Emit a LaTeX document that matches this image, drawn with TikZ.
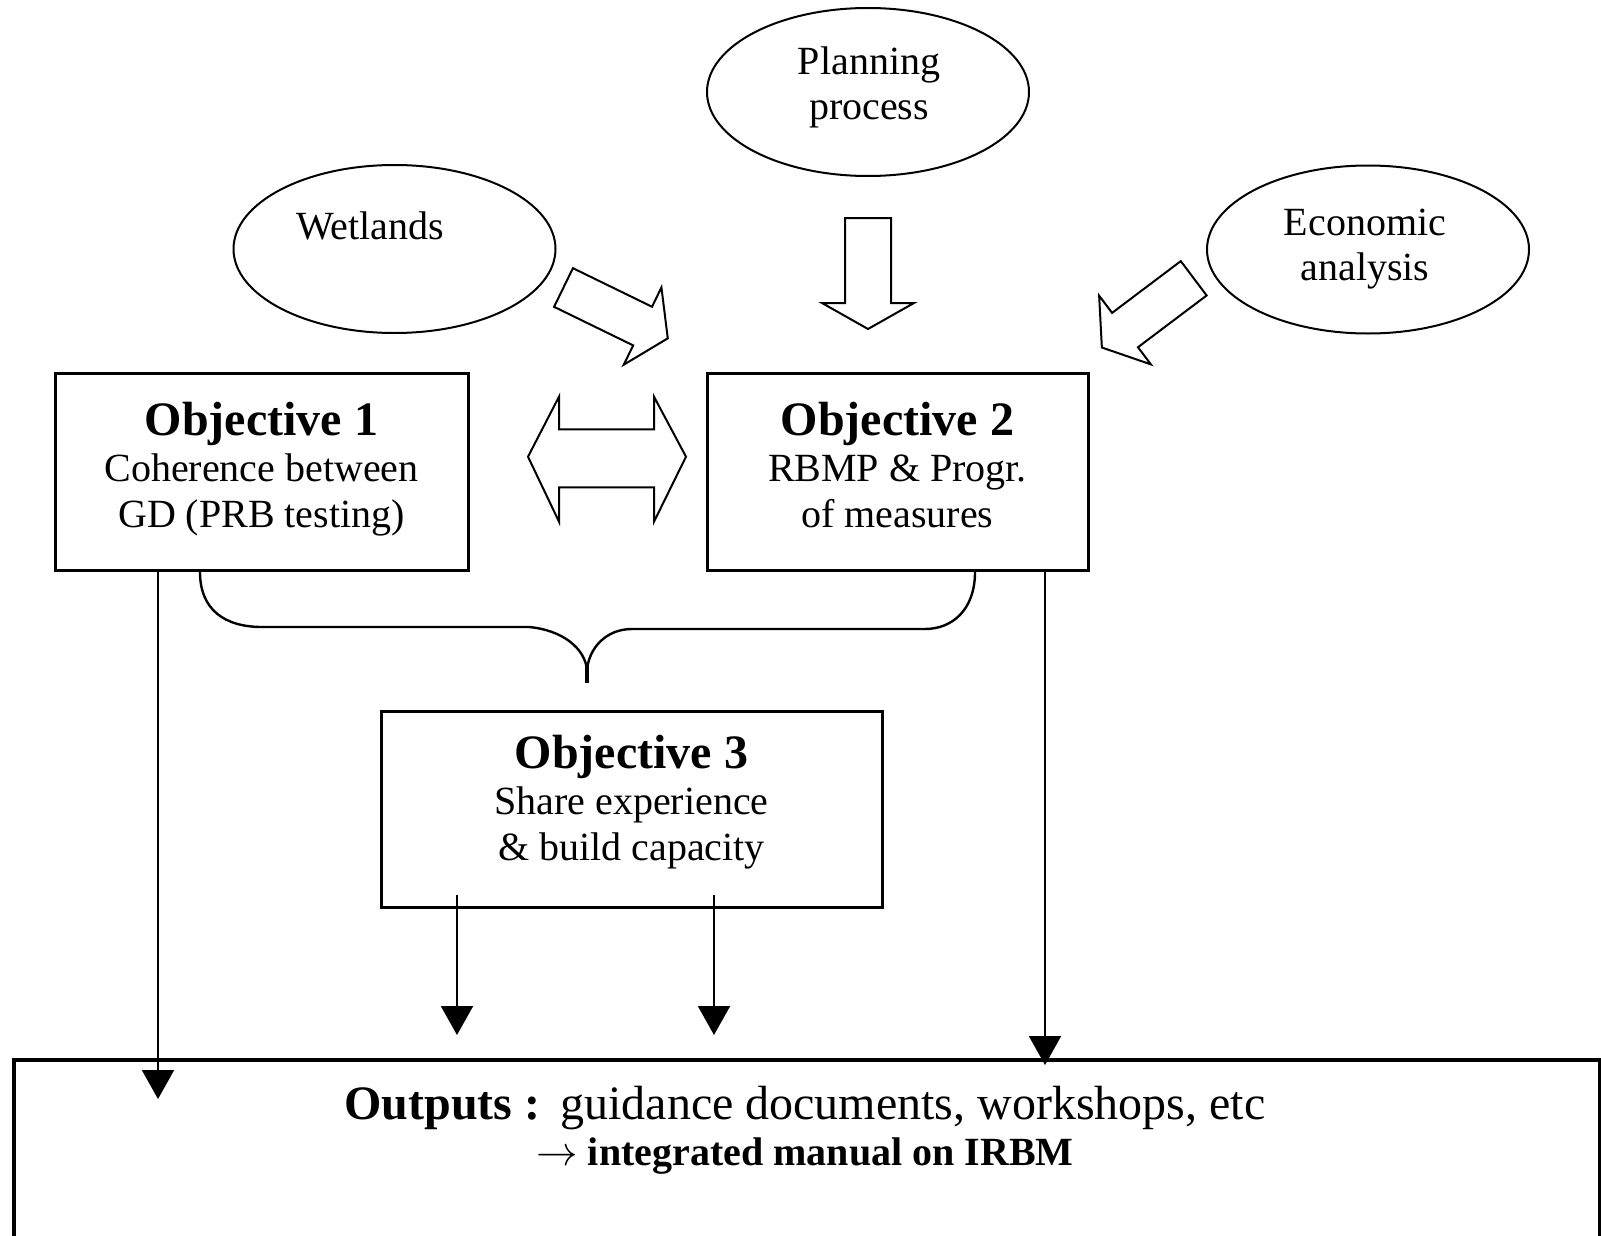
\documentclass[tikz,border=0pt]{standalone}
\usepackage{fontspec}
\setmainfont{Liberation Serif}
\usetikzlibrary{shapes.geometric,arrows.meta}

\tikzset{
  objbox/.style={draw, line width=1.5pt, minimum height=98.5pt},
  objtext/.style={align=center, font=\fontsize{20}{23}\selectfont},
  topic/.style={draw, ellipse, line width=1pt, minimum width=161pt, minimum height=84pt},
  topictext/.style={align=center, font=\fontsize{20}{22.5}\selectfont},
  fatarrow/.style={draw, line width=1pt, fill=white, line join=miter},
  outarrow/.style={line width=1pt, -{Triangle[length=14.5pt,width=16pt]}},
  bracepath/.style={line width=1.2pt},
}

\begin{document}
\begin{tikzpicture}[x=0.5pt, y=-0.5pt]
\useasboundingbox[fill=white] (0,0) rectangle (1601,1236);

% input topics
\node[topic] (planning) at (868,92) {};
\node[topictext] (plantxt) at (869,87) {Planning\\process};
\node[topic] (wetlands) at (394.5,249) {};
\node[topictext] (wettxt) at (370,226) {Wetlands};
\node[topic] (economic) at (1368,249.5) {};
\node[topictext] (ecotxt) at (1365,249) {Economic\\analysis};

% objectives
\node[objbox, minimum width=206.5pt] (obj1) at (261.5,472) {};
\node[objtext] (obj1txt) at ([yshift=1.5pt]obj1.center)
  {{\fontsize{24}{23}\selectfont\bfseries Objective 1}\\Coherence between\\GD (PRB testing)};
\node[objbox, minimum width=190.5pt] (obj2) at (897.5,472) {};
\node[objtext] (obj2txt) at ([yshift=3.5pt]obj2.center)
  {{\fontsize{24}{23}\selectfont\bfseries Objective 2}\\RBMP \& Progr.\\of measures};
\node[objbox, minimum width=250.5pt, minimum height=98pt] (obj3) at (631.5,809.7) {};
\node[objtext] (obj3txt) at ([yshift=3.8pt]obj3.center)
  {{\fontsize{24}{23}\selectfont\bfseries Objective 3}\\Share experience\\\& build capacity};

% outputs
\node[draw, line width=2pt, anchor=north west, minimum width=793pt, minimum height=100pt] (outputs) at (12,1058) {};
\node[align=center, font=\fontsize{24}{23}\selectfont] (outtxt) at (805,1130)
  {{\bfseries Outputs :}\hspace{2pt} guidance documents, workshops, etc\\
   {\fontsize{20}{23}\selectfont\bfseries $\rightarrow$ integrated manual on IRBM}};

% block arrows
\begin{scope}[shift={(868,218)}, rotate=-90]
  \draw[fatarrow] (0,-23) -- (85,-23) -- (85,-46) -- (111,0) -- (85,46) -- (85,23) -- (0,23) -- cycle;
\end{scope}
\begin{scope}[shift={(563.5,287.5)}, rotate=-26]
  \draw[fatarrow] (0,-21.5) -- (88,-21.5) -- (88,-43) -- (116,0) -- (88,43) -- (88,21.5) -- (0,21.5) -- cycle;
\end{scope}
\begin{scope}[shift={(1193.7,278.3)}, rotate=-143]
  \draw[fatarrow] (0,-21.5) -- (86,-21.5) -- (86,-43) -- (115,0) -- (86,43) -- (86,21.5) -- (0,21.5) -- cycle;
\end{scope}
\draw[fatarrow] (528,456.7) -- (559,396.7) -- (559,429.3) -- (654,429.3) -- (654,396.7) -- (686,456.7)
  -- (654,521.7) -- (654,487.3) -- (559,487.3) -- (559,521.7) -- cycle;

% brace joining objectives 1 and 2
\draw[bracepath] (200,572) .. controls (200,610) and (225,627) .. (262,627) -- (529,627)
  .. controls (562,630) and (585,648) .. (587,670)
  .. controls (589,648) and (606,629) .. (632,629) -- (925,629)
  .. controls (952,629) and (975,610) .. (975,572);
\draw[line width=2pt] (587,665) -- (587,683);

% arrows to outputs
\coordinate (o1end) at (158,1099);
\coordinate (o2end) at (1045,1065);
\coordinate (o3aend) at (457,1035);
\coordinate (o3bend) at (714,1035);
\coordinate (o3astart) at (457,895);
\coordinate (o3bstart) at (714,895);
\draw[outarrow] (obj1.south -| o1end) -- (o1end);
\draw[outarrow] (obj2.south -| o2end) -- (o2end);
\draw[outarrow] (o3astart) -- (o3aend);
\draw[outarrow] (o3bstart) -- (o3bend);
\end{tikzpicture}
\end{document}
